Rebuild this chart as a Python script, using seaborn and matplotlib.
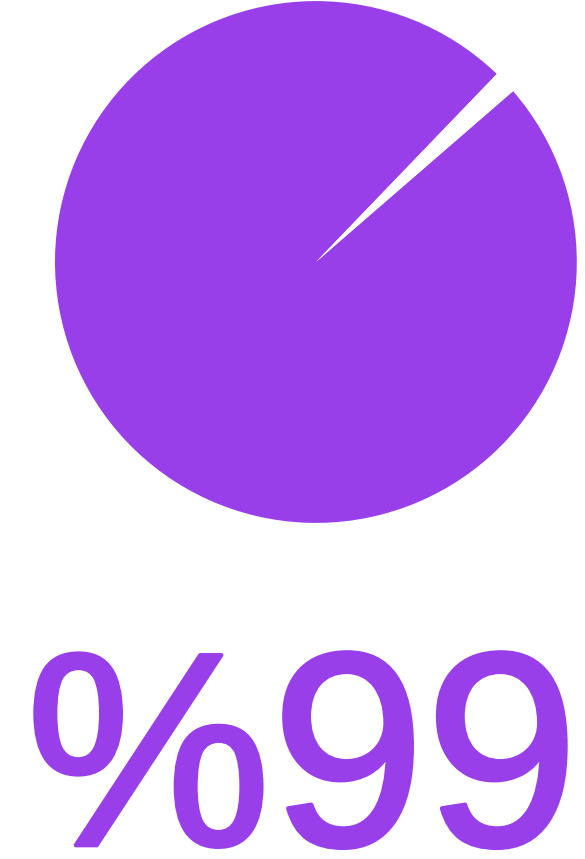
import matplotlib
matplotlib.use('Agg')
import matplotlib.pyplot as plt
import matplotlib.patheffects as pe
import seaborn as sns

# data
share_labels = ['filled', 'rest']
share_values = [98.56, 1.44]
label_text = '%99'

purple = '#993fea'

sns.set_style('white')
plt.rcParams['font.family'] = ['Liberation Sans', 'DejaVu Sans']

fig = plt.figure(figsize=(5.85, 8.59), dpi=100)
ax = fig.add_axes([0.094, 0.391, 0.892, 0.608])
ax.pie(share_values, colors=[purple, 'white'], startangle=46.1,
       counterclock=True, radius=1.0, wedgeprops={'linewidth': 0})
ax.set_xlim(-1, 1)
ax.set_ylim(-1, 1)
ax.set_aspect('equal')
ax.axis('off')

# medium-weight look: regular face with a thin same-colour outline
fig.text(0.5165, 0.016, label_text, ha='center', va='baseline',
         fontsize=199, fontweight='normal', color=purple,
         path_effects=[pe.withStroke(linewidth=3, foreground=purple)])

fig.savefig('out.png', dpi=100)
